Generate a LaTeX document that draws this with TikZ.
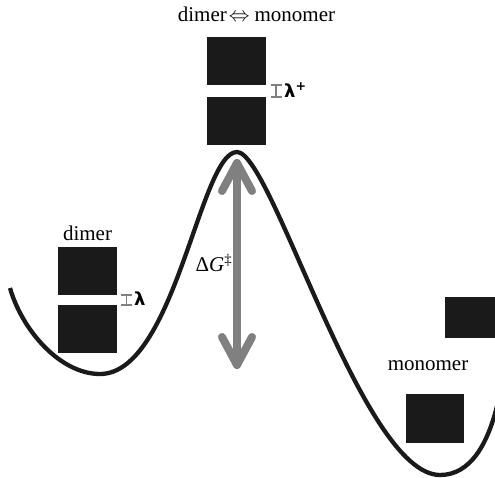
\documentclass[tikz,border=0pt]{standalone}
\usepackage{fontspec}
\setmainfont{Liberation Serif}
\newfontfamily\lamfont{DejaVu Sans}
\definecolor{boxblack}{HTML}{1A1A1A}
\definecolor{arrgray}{HTML}{808080}
\begin{document}
\begin{tikzpicture}[x=1pt,y=-1pt,
  blk/.style={fill=boxblack,draw=none,inner sep=0pt,minimum width=59pt,minimum height=48pt},
  lbl/.style={inner sep=0pt,font=\fontsize{21}{24}\selectfont},
  lam/.style={inner sep=0pt,anchor=west,font=\fontsize{18}{22}\selectfont\lamfont\bfseries},
  ibar/.style={draw=arrgray,line width=1.2pt},
  curve/.style={line width=4.3pt,draw=boxblack},
  garrow/.style={draw=arrgray,line width=8pt,line cap=round,line join=round}]
\useasboundingbox (0,0) rectangle (495,478);
\begin{scope}
\clip (0,0) rectangle (495,478);
% boxes
\node[blk] (t1) at (236.5,61) {};
\node[blk] (t2) at (236.5,121) {};
\node[blk] (l1) at (87.5,271) {};
\node[blk] (l2) at (87.5,329) {};
\node[blk,minimum width=50pt,minimum height=41pt] (r1) at (470,317.5) {};
\node[blk,minimum width=58pt,minimum height=49pt] (r2) at (435,418.5) {};
% energy curve
\draw[curve] (10,288) .. controls (22,330) and (60,374) .. (100,374)
  .. controls (175,374) and (200,152) .. (237,152)
  .. controls (272,152) and (362,475) .. (440,475)
  .. controls (470,475) and (488,445) .. (498,402);
\end{scope}
% labels
\node[lbl] (top) at (256.5,14) {dimer\kern2pt$\Leftrightarrow$\kern5pt monomer};
\node[lbl] (dim) at (87.5,233) {dimer};
\node[lbl] (mon) at (428,366) {monomer};
\node[lbl] (dg) at (214,263) {Δ\textit{G}\textsuperscript{‡}};
% I-bars
\coordinate (ia1) at (276,85);
\coordinate (ia2) at (276,97);
\draw[ibar] (ia1) -- (ia2);
\draw[ibar] ([xshift=-5.5pt]ia1) -- ([xshift=5.5pt]ia1);
\draw[ibar] ([xshift=-5.5pt]ia2) -- ([xshift=5.5pt]ia2);
\node[lam] (lp) at (284,90) {λ\textsuperscript{+}};
\coordinate (ib1) at (126.5,295);
\coordinate (ib2) at (126.5,305);
\draw[ibar] (ib1) -- (ib2);
\draw[ibar] ([xshift=-5.5pt]ib1) -- ([xshift=5.5pt]ib1);
\draw[ibar] ([xshift=-5.5pt]ib2) -- ([xshift=5.5pt]ib2);
\node[lam] (lm) at (134,299) {λ};
% delta G arrow
\coordinate (atop) at (237,163);
\coordinate (abot) at (237,365);
\draw[garrow] (atop) -- (abot);
\draw[garrow] ([shift={(-15,28)}]atop) -- (atop) -- ([shift={(15,28)}]atop);
\draw[garrow] ([shift={(-15,-28)}]abot) -- (abot) -- ([shift={(15,-28)}]abot);
\end{tikzpicture}
\end{document}
